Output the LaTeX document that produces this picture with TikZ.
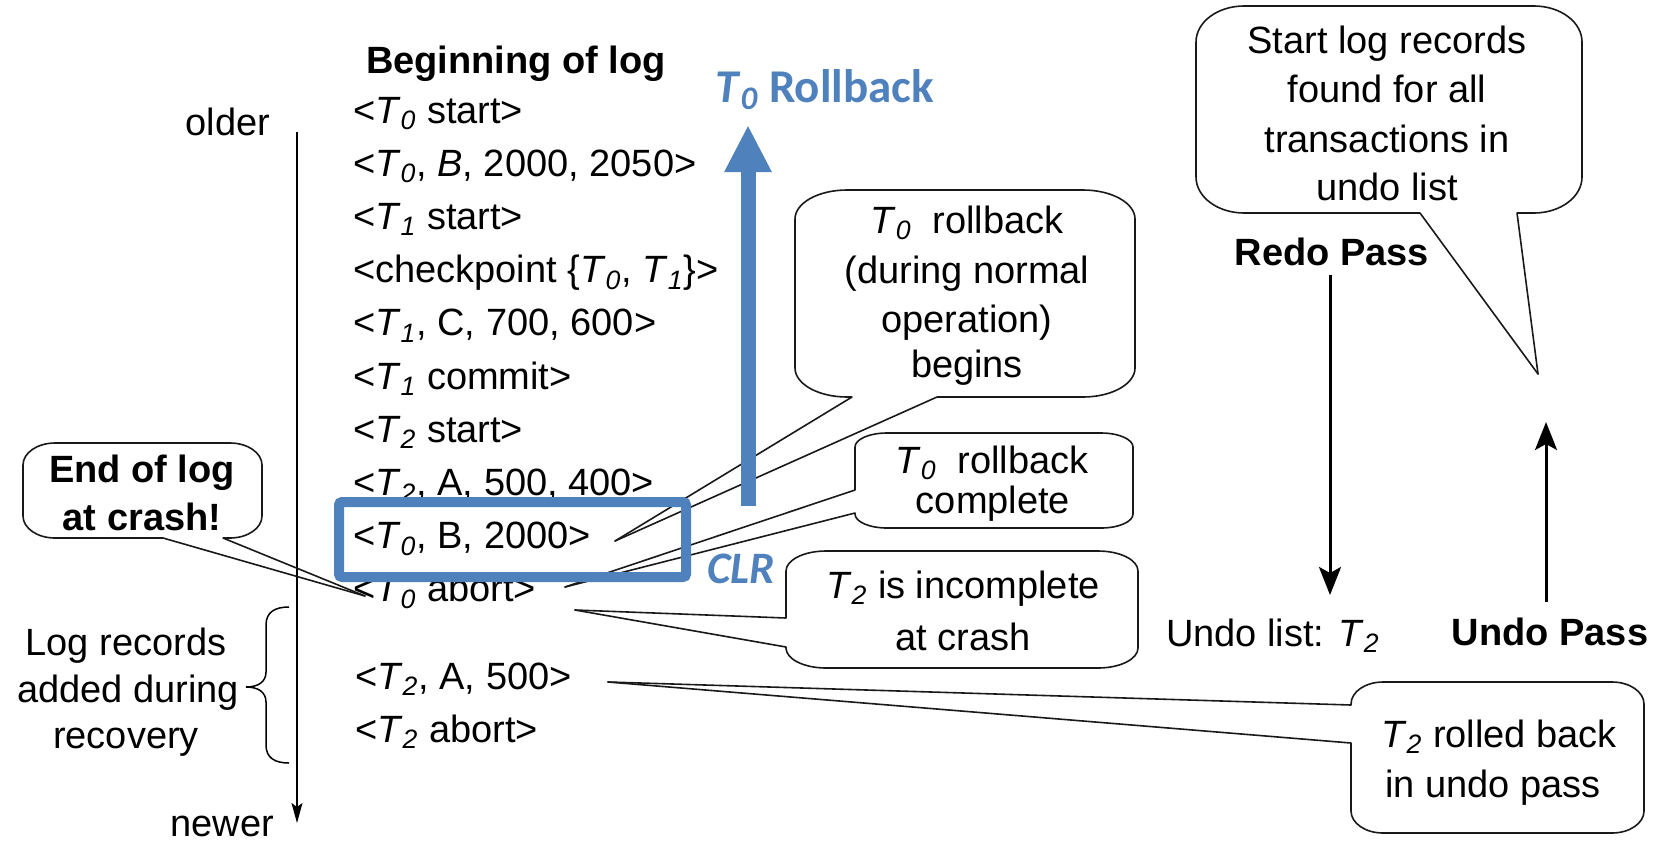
\documentclass[tikz,border=0pt]{standalone}
\usepackage{fontspec}
\setmainfont{Liberation Sans}
\newfontfamily\calfont{Carlito}
\usetikzlibrary{arrows.meta,fit}
\definecolor{clrblue}{RGB}{79,129,189}
% transaction name with italic subscript
\newcommand\Tx[1]{\textit{T}\textsubscript{\textit{#1}}}
% speech-bubble outline around a node: name, corner x radius, corner y radius
\newcommand\bubble[3]{%
  \draw[outline] ([xshift=#2]#1.north west) -- ([xshift=-#2]#1.north east)
    arc[start angle=90,end angle=0,x radius=#2,y radius=#3]
    -- ([yshift=#3]#1.south east)
    arc[start angle=0,end angle=-90,x radius=#2,y radius=#3]
    -- ([xshift=#2]#1.south west)
    arc[start angle=270,end angle=180,x radius=#2,y radius=#3]
    -- ([yshift=-#3]#1.north west)
    arc[start angle=180,end angle=90,x radius=#2,y radius=#3] -- cycle;}
% bubble tail: opening (a)-(b) on the outline, point (c)
\newcommand\tail[3]{%
  \draw[gapfix] (#1) -- (#2);
  \draw[tailline] (#1) -- (#3);
  \draw[tailline] (#2) -- (#3);}
\tikzset{
  lbl/.style={font=\fontsize{19}{23}\selectfont, inner sep=0pt, outer sep=0pt},
  lblb/.style={lbl, font=\fontsize{19}{23}\selectfont\bfseries},
  rec/.style={lbl, anchor=base west},
  ln/.style={lbl, anchor=base},
  lnb/.style={lblb, anchor=base},
  area/.style={inner sep=0pt, outer sep=0pt},
  outline/.style={line width=0.8pt, draw=black!90},
  tailline/.style={line width=0.8pt, draw=black!90, line cap=round},
  gapfix/.style={draw=white, line width=2pt},
  thinarrow/.style={line width=0.75pt, -{Stealth[length=10pt,width=5.5pt,inset=2pt]}},
  passarrow/.style={line width=1.5pt, -{Stealth[length=14pt,width=11pt,inset=3pt]}},
  bluearrow/.style={draw=clrblue, line width=7.5pt, -{Triangle[length=23.5pt,width=22pt]}},
  bluebox/.style={draw=clrblue, line width=5pt, rounded corners=1.5pt},
}
\begin{document}
\begin{tikzpicture}[x=0.5pt,y=-0.5pt]
\useasboundingbox (0,0) rectangle (1663,841);

% ---- the log ----
\node[lblb, anchor=base west] (head) at (366,73) {Beginning of log};
\node[rec] (r0) at (353,123) {<\Tx{0} start>};
\node[rec] (r1) at (353,176.2) {<\Tx{0}, \textit{B}, 2000, 2050>};
\node[rec] (r2) at (353,229.4) {<\Tx{1} start>};
\node[rec] (r3) at (353,282.6) {<checkpoint \{\Tx{0}, \Tx{1}\}>};
\node[rec] (r4) at (353,335.8) {<\Tx{1}, C, 700, 600>};
\node[rec] (r5) at (353,389) {<\Tx{1} commit>};
\node[rec] (r6) at (353,442.2) {<\Tx{2} start>};
\node[rec] (r7) at (353,495.4) {<\Tx{2}, A, 500, 400>};
\node[rec] (r8) at (353,548.6) {<\Tx{0}, B, 2000>};
\node[rec] (r9) at (353,601.8) {<\Tx{0} abort>};
\node[rec] (r10) at (355,689) {<\Tx{2}, A, 500>};
\node[rec] (r11) at (355,742) {<\Tx{2} abort>};

% ---- time axis ----
\node[lbl, anchor=base east] (older) at (270,135) {older};
\node[lbl, anchor=base east] (newer) at (274,836) {newer};
\coordinate (tl0) at (297,132);
\coordinate (tl1) at (297,823);
\draw[thinarrow] (tl0) -- (tl1);

% ---- records added during recovery ----
\draw[line width=0.75pt] (289,607) .. controls (275,607) and (266,612) .. (266,625)
  -- (266,672) .. controls (266,682) and (258,687) .. (246,687)
  .. controls (258,687) and (266,692) .. (266,702)
  -- (266,745) .. controls (266,758) and (275,763) .. (289,763);
\node[ln] (rec1) at (126,655) {Log records};
\node[ln] (rec2) at (128,702) {added during};
\node[ln] (rec3) at (126,748) {recovery};

% ---- callouts ----
\node[fit={(23,443) (262,538)}, area] (b1) {};
\bubble{b1}{16pt}{11pt}
\node[lnb] (b1l1) at (142,482) {End of log};
\node[lnb] (b1l2) at (142,530) {at crash!};
\coordinate (b1a) at (163,538);
\coordinate (b1b) at (223,538);
\coordinate (b1t) at (365,596);
\tail{b1a}{b1b}{b1t}

\node[fit={(795,190) (1135,397)}, area] (b2) {};
\bubble{b2}{26pt}{14.5pt}
\node[ln] (b2l1) at (967,233) {\Tx{0}\ \ rollback};
\node[ln] (b2l2) at (967,283) {(during normal};
\node[ln] (b2l3) at (967,332) {operation)};
\node[ln] (b2l4) at (967,377) {begins};
\coordinate (b2a) at (852,397);
\coordinate (b2b) at (937,397);
\coordinate (b2t) at (615,541);
\tail{b2a}{b2b}{b2t}

\node[fit={(855,433) (1133,528)}, area] (b3) {};
\bubble{b3}{16pt}{7pt}
\node[ln] (b3l1) at (992,473) {\Tx{0}\ \ rollback};
\node[ln] (b3l2) at (993,513) {complete};
\coordinate (b3a) at (855,490);
\coordinate (b3b) at (855,513);
\coordinate (b3t) at (565,587);
\tail{b3a}{b3b}{b3t}

\node[fit={(786,551) (1138,668)}, area] (b4) {};
\bubble{b4}{20pt}{10pt}
\node[ln] (b4l1) at (963,598) {\Tx{2} is incomplete};
\node[ln] (b4l2) at (963,650) {at crash};
\coordinate (b4a) at (786,618);
\coordinate (b4b) at (786,647);
\coordinate (b4t) at (575,610);
\tail{b4a}{b4b}{b4t}

\node[fit={(1351,682) (1644,833)}, area] (b5) {};
\bubble{b5}{16pt}{11pt}
\node[ln] (b5l1) at (1499,747) {\Tx{2} rolled back};
\node[ln] (b5l2) at (1493,797) {in undo pass};
\coordinate (b5a) at (1351,705);
\coordinate (b5b) at (1351,743);
\coordinate (b5t) at (608,682);
\tail{b5a}{b5b}{b5t}

\node[fit={(1196,6) (1582,213)}, area] (b6) {};
\bubble{b6}{24pt}{18pt}
\node[ln] (b6l1) at (1387,53) {Start log records};
\node[ln] (b6l2) at (1387,102) {found for all};
\node[ln] (b6l3) at (1387,152) {transactions in};
\node[ln] (b6l4) at (1387,200) {undo list};
\coordinate (b6a) at (1420,213);
\coordinate (b6b) at (1517,213);
\coordinate (b6t) at (1538,374);
\tail{b6a}{b6b}{b6t}

% ---- compensation log record and rollback ----
\draw[bluebox] (339,502) rectangle (686,577);
\node[anchor=base west, inner sep=0pt, text=clrblue,
      font=\calfont\bfseries\itshape\fontsize{22.5}{27}\selectfont] (clr) at (707,583) {CLR};
\coordinate (rb0) at (748,506);
\coordinate (rb1) at (748,125);
\draw[bluearrow] (rb0) -- (rb1);
\node[anchor=base west, inner sep=0pt, text=clrblue,
      font=\calfont\bfseries\fontsize{23.5}{28}\selectfont] (rbt) at (715,102) {\Tx{0} Rollback};

% ---- recovery passes ----
\node[lnb] (redo) at (1332,265) {Redo Pass};
\coordinate (rd0) at (1330,275);
\coordinate (rd1) at (1330,595);
\draw[passarrow] (rd0) -- (rd1);
\node[lbl, anchor=base west] (ulist) at (1166,646) {Undo list: \Tx{2}};
\node[lnb] (undo) at (1550,645) {Undo Pass};
\coordinate (ud0) at (1546,602);
\coordinate (ud1) at (1546,422);
\draw[passarrow] (ud0) -- (ud1);
\end{tikzpicture}
\end{document}
